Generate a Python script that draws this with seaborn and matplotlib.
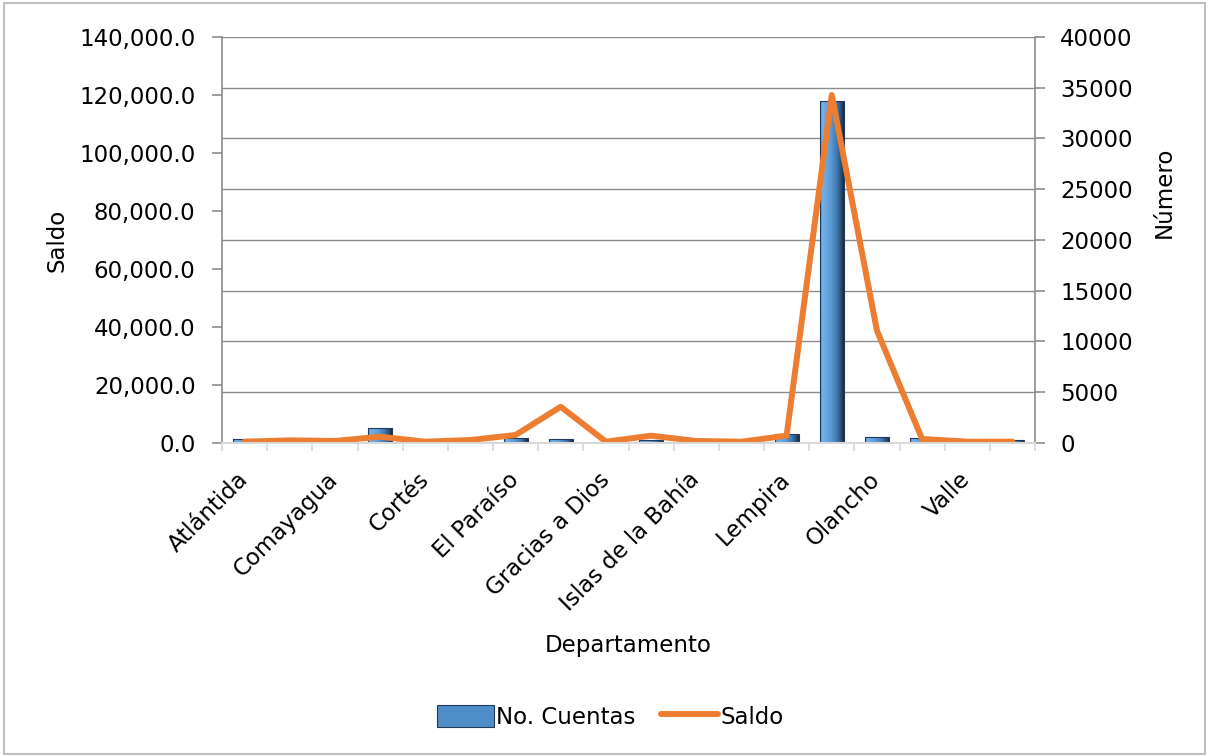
import numpy as np
import pandas as pd
import matplotlib
matplotlib.use("Agg")
import matplotlib.pyplot as plt
import seaborn as sns
from matplotlib.colors import LinearSegmentedColormap
from matplotlib.patches import Rectangle, Patch
from matplotlib.lines import Line2D
from matplotlib.ticker import FixedLocator, FuncFormatter

# Cuentas y saldo por departamento
departamentos = [
    "Atlántida", "Colón", "Comayagua", "Copán", "Cortés", "Choluteca",
    "El Paraíso", "Francisco Morazán", "Gracias a Dios", "Intibucá",
    "Islas de la Bahía", "La Paz", "Lempira", "Ocotepeque", "Olancho",
    "Santa Bárbara", "Valle", "Yoro",
]
no_cuentas = [360, 80, 150, 1510, 50, 90, 520, 400, 0, 250, 360, 40, 860,
              33700, 620, 460, 0, 300]
saldo = [450, 900, 700, 2170, 450, 1030, 2760, 12500, 450, 2520, 690, 450,
         2520, 120000, 38800, 1380, 450, 450]

saldo_ticks = [0, 20000, 40000, 60000, 80000, 100000, 120000, 140000]
numero_ticks = [0, 5000, 10000, 15000, 20000, 25000, 30000, 35000, 40000]

df = pd.DataFrame({
    "Departamento": departamentos,
    "No. Cuentas": no_cuentas,
    "Saldo": saldo,
})
df["pos"] = np.arange(len(df))

sns.set_style("white")
plt.rcParams["font.family"] = ["DejaVu Sans"]
plt.rcParams["text.color"] = "black"
plt.rcParams["axes.labelcolor"] = "black"
plt.rcParams["xtick.labelcolor"] = "black"
plt.rcParams["ytick.labelcolor"] = "black"
FS = 16.5
AXIS_GREY = "#8C8C8C"
LIGHT_GREY = "#D9D9D9"
BLUE = "#5B9BD5"
ORANGE = "#ED7D31"

fig = plt.figure(figsize=(12.08, 7.56), dpi=100)
fig.patch.set_facecolor("white")
W, H = 1208, 756
ax = fig.add_axes([222 / W, 1 - 443 / H, 813 / W, 406 / H])
ax2 = ax.twinx()

# Bars: number of accounts on the right-hand axis
sns.barplot(data=df, x="Departamento", y="No. Cuentas", order=departamentos,
            color=BLUE, saturation=1, width=0.53, errorbar=None, ax=ax2)

# Bevelled look for the bars: horizontal shading clipped to each bar
shade = LinearSegmentedColormap.from_list("bevel", [
    (0.0, "#3F6F9F"), (0.08, "#74B2EA"), (0.45, "#5B9BD5"),
    (0.72, "#3E75AC"), (0.9, "#254A70"), (1.0, "#16283D")])
grad = np.linspace(0, 1, 128).reshape(1, -1)
for bar in list(ax2.patches):
    x0, y0 = bar.get_x(), bar.get_y()
    w, h = bar.get_width(), bar.get_height()
    if h <= 0:
        continue
    bar.set_edgecolor("none")
    im = ax2.imshow(grad, cmap=shade, aspect="auto",
                    extent=[x0, x0 + w, y0, y0 + h], zorder=bar.get_zorder() + 0.1,
                    interpolation="bilinear")
    im.set_clip_path(bar)
    ax2.add_patch(Rectangle((x0, y0), w, h, fill=False, edgecolor="#1F3A5A",
                            lw=0.8, zorder=bar.get_zorder() + 0.2))

# Line: balance on the left-hand axis
sns.lineplot(data=df, x="pos", y="Saldo", sort=False, color=ORANGE, lw=4.3,
             solid_joinstyle="round", solid_capstyle="round", ax=ax)

ax.set_zorder(ax2.get_zorder() + 1)
ax.patch.set_visible(False)

n = len(departamentos)
ax.set_xlim(-0.5, n - 0.5)
ax.set_ylim(0, 140000)
ax2.set_ylim(0, 40000)

# Left axis (Saldo)
ax.yaxis.set_major_locator(FixedLocator(saldo_ticks))
ax.yaxis.set_major_formatter(FuncFormatter(lambda v, p: f"{v:,.1f}"))
ax.tick_params(axis="y", which="major", left=True, length=7, width=1.2,
               color=AXIS_GREY, labelsize=FS, labelcolor="black", pad=12,
               direction="out")

# Right axis (Número)
ax2.yaxis.set_major_locator(FixedLocator(numero_ticks))
ax2.yaxis.set_major_formatter(FuncFormatter(lambda v, p: f"{int(v)}"))
ax2.tick_params(axis="y", which="major", right=True, length=7, width=1.2,
                color=AXIS_GREY, labelsize=FS, labelcolor="black", pad=11,
                direction="out")
ax2.yaxis.grid(True, color=AXIS_GREY, lw=1.0)
ax2.set_axisbelow(True)
ax.grid(False)

# Category axis: boundary tick marks, every other label
ax.xaxis.set_major_locator(FixedLocator(list(range(0, n, 2))))
ax.set_xticklabels(departamentos[::2])
ax.xaxis.set_minor_locator(FixedLocator(list(np.arange(-0.5, n, 1.0))))
ax.tick_params(axis="x", which="major", bottom=True, length=0, labelsize=FS,
               labelcolor="black", pad=24)
ax.tick_params(axis="x", which="minor", bottom=True, length=6, width=1.2,
               color=LIGHT_GREY, direction="out")
for lab in ax.get_xticklabels():
    lab.set_rotation(45)
    lab.set_ha("right")
    lab.set_va("center")
    lab.set_rotation_mode("anchor")

for a in (ax, ax2):
    a.spines["top"].set_visible(False)
ax.spines["right"].set_visible(False)
ax2.spines["left"].set_visible(False)
ax2.spines["bottom"].set_visible(False)
ax.spines["left"].set_color(AXIS_GREY)
ax.spines["left"].set_linewidth(1.2)
ax2.spines["right"].set_color(AXIS_GREY)
ax2.spines["right"].set_linewidth(1.2)
ax.spines["bottom"].set_color(LIGHT_GREY)
ax.spines["bottom"].set_linewidth(1.5)

ax.set_xlabel("Departamento", fontsize=FS, color="black")
ax.xaxis.set_label_coords(0.5, -0.47)
ax.set_ylabel("Saldo", fontsize=FS, color="black")
ax.yaxis.set_label_coords(-0.189, 0.5)
ax2.set_ylabel("Número", fontsize=FS, color="black")
ax2.yaxis.set_label_coords(1.145, 0.618)

handles = [
    Patch(facecolor="#4F8DC9", edgecolor="#1F3A5A", lw=0.8),
    Line2D([0], [0], color=ORANGE, lw=4.3, solid_capstyle="round"),
]
leg = fig.legend(handles, ["No. Cuentas", "Saldo"], loc="center",
                 bbox_to_anchor=(0.505, 0.052), ncol=2, frameon=False,
                 fontsize=FS, handlelength=2.5, handleheight=1.1,
                 handletextpad=0.1, columnspacing=1.1)
for t in leg.get_texts():
    t.set_color("black")

# Chart frame
fig.add_artist(Rectangle((4 / W, 2 / H), 1201 / W, 751 / H,
                         transform=fig.transFigure, fill=False,
                         edgecolor="#BFBFBF", lw=1.5))

fig.savefig("out.png", dpi=100, facecolor="white")
